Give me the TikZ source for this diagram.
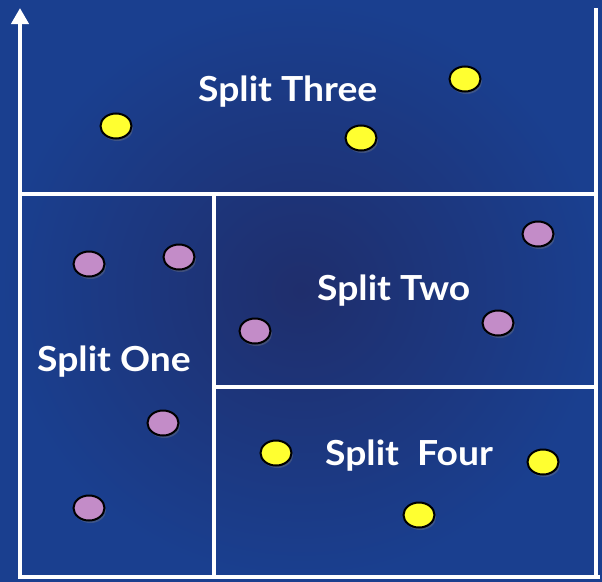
\documentclass[tikz,border=0pt]{standalone}
\usepackage{fontspec}
\setmainfont{Lato}[FakeStretch=1.08]
\usetikzlibrary{shadows,arrows.meta,shapes.geometric}
\definecolor{bgout}{HTML}{1A3F8F}
\definecolor{bgin}{HTML}{1F2E6C}
\definecolor{yellowdot}{HTML}{FFFF30}
\definecolor{purpledot}{HTML}{C38CC8}
\begin{document}
\begin{tikzpicture}[x=1pt,y=-1pt,
  wline/.style={white,line width=4pt},
  dot/.style={ellipse, draw=black, line width=2pt, minimum width=31pt, minimum height=25pt, inner sep=0pt,
    drop shadow={opacity=0.35,shadow xshift=1.5pt,shadow yshift=-2.5pt}},
  ydot/.style={dot, fill=yellowdot},
  pdot/.style={dot, fill=purpledot},
  lbl/.style={text=white, font=\fontsize{34.5}{40}\selectfont\bfseries, anchor=base west, inner sep=0pt}]
\useasboundingbox (0,0) rectangle (602,581);
\shade[inner color=bgin, outer color=bgout] (0,0) rectangle (602,581);
% axes
\coordinate (ybot) at (20,579);
\coordinate (ytop) at (20,8);
\coordinate (xl) at (18,577);
\coordinate (xr) at (600,577);
\draw[wline,-{Triangle[width=17pt,length=16pt]}] (ybot) -- (ytop);
\draw[wline] (xl) -- (xr);
% frame lines
\coordinate (rt) at (596,8);
\coordinate (rb) at (596,577);
\draw[wline] (rt) -- (rb);
\coordinate (h1l) at (20,194);
\coordinate (h1r) at (596,194);
\draw[wline] (h1l) -- (h1r);
\coordinate (v1t) at (214,194);
\coordinate (v1b) at (214,577);
\draw[wline] (v1t) -- (v1b);
\coordinate (h2l) at (214,387);
\coordinate (h2r) at (596,387);
\draw[wline] (h2l) -- (h2r);
% labels
\node[lbl] (three) at (198,101) {Split Three};
\node[lbl] (one) at (37,371) {Split One};
\node[lbl] (two) at (317,300) {Split Two};
\node[lbl] (four) at (325,465) {Split\ \ Four};
% dots
\node[ydot] (y1) at (116,126) {};
\node[ydot] (y2) at (361,138) {};
\node[ydot] (y3) at (465,79) {};
\node[ydot] (y4) at (276,453) {};
\node[ydot] (y5) at (543,462) {};
\node[ydot] (y6) at (419,515) {};
\node[pdot] (p1) at (89,264) {};
\node[pdot] (p2) at (179,257) {};
\node[pdot] (p3) at (255,331) {};
\node[pdot] (p4) at (498,323) {};
\node[pdot] (p5) at (538,234) {};
\node[pdot] (p6) at (163,423) {};
\node[pdot] (p7) at (89,508) {};
\end{tikzpicture}
\end{document}
